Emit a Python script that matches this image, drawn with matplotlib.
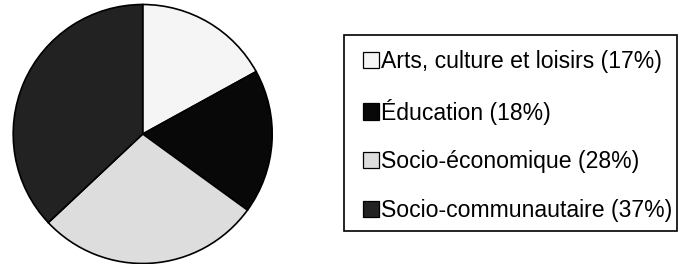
import matplotlib
matplotlib.use("Agg")
import matplotlib.pyplot as plt
from matplotlib.patches import Rectangle

categories = ["Arts, culture et loisirs", "Éducation", "Socio-économique", "Socio-communautaire"]
values = [17, 18, 28, 37]
colors = ["#f5f5f5", "#080808", "#dddddd", "#222222"]

plt.rcParams['font.family'] = ['Liberation Sans', 'DejaVu Sans']

W, H = 679, 264
fig = plt.figure(figsize=(W / 100, H / 100), dpi=100)
ax = fig.add_axes([0, 0, 1, 1])

wedges, _ = ax.pie(values, colors=colors, startangle=90, counterclock=False,
                   center=(142.7, H - 134), radius=129.5, frame=True,
                   wedgeprops=dict(edgecolor='black', linewidth=1.2))
ax.set_xlim(0, W)
ax.set_ylim(0, H)
ax.set_aspect('auto')
ax.axis('off')

# legend frame
ax.add_patch(Rectangle((344, H - 231), 333, 196, facecolor='white',
                       edgecolor='black', linewidth=1.2, zorder=2))

labels = [f"{c} ({v}%)" for c, v in zip(categories, values)]
leg = ax.legend(wedges, labels, loc='upper left',
                bbox_to_anchor=(363 / W, 1 - 50 / H), bbox_transform=fig.transFigure,
                borderaxespad=0, fontsize=16.6, frameon=False,
                handlelength=0.7, handleheight=0.7, handletextpad=0.08,
                labelspacing=1.11, borderpad=0)
leg.set_zorder(3)
for h in leg.legend_handles:
    h.set_edgecolor('black')
    h.set_linewidth(0.9)

fig.savefig("out.png", dpi=100)
